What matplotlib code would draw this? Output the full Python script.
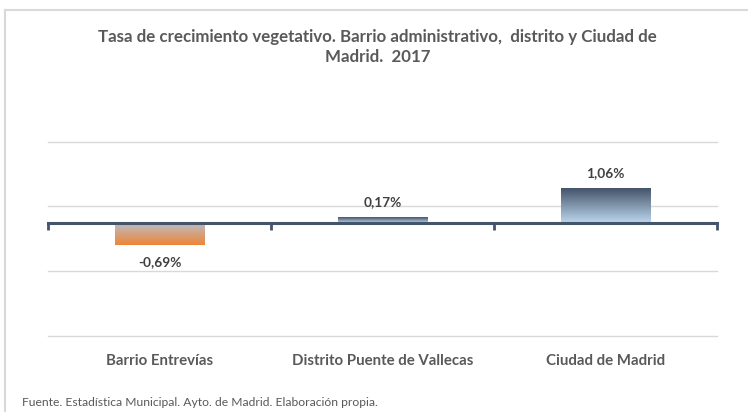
import numpy as np
import matplotlib
matplotlib.use("Agg")
import matplotlib.pyplot as plt
from matplotlib.colors import LinearSegmentedColormap
from matplotlib.lines import Line2D

categories = ["Barrio Entrevías", "Distrito Puente de Vallecas", "Ciudad de Madrid"]
values = [-0.69, 0.17, 1.06]
value_labels = ["-0,69%", "0,17%", "1,06%"]
grid_values = [-3.5, -1.5, 0.5, 2.5]
title = "Tasa de crecimiento vegetativo. Barrio administrativo,  distrito y Ciudad de\nMadrid.  2017"
source = "Fuente. Estadística Municipal. Ayto. de Madrid. Elaboración propia."

plt.rcParams['font.family'] = ['Lato', 'DejaVu Sans']

fig = plt.figure(figsize=(7.48, 4.12), dpi=100)
ax = fig.add_axes([48/748, 76/412, 669/748, 194.3/412])

# chart frame
fig.add_artist(Line2D([5/748, 5/748], [0, 1 - 10/412], color='#d9d9d9', lw=1.5))
fig.add_artist(Line2D([5/748, 1], [1 - 10/412, 1 - 10/412], color='#d9d9d9', lw=1.5))

x = np.arange(len(categories))
bars = ax.bar(x, values, width=0.40, color='none', edgecolor='none', zorder=3)

grad = np.linspace(0, 1, 256).reshape(-1, 1)
for v, bar in zip(values, bars):
    if v < 0:
        cmap = LinearSegmentedColormap.from_list('neg', ['#b8bfcb', '#ef8536'])
    else:
        cmap = LinearSegmentedColormap.from_list('pos', ['#bdd7ee', '#44546a'])
    x0 = bar.get_x()
    w = bar.get_width()
    im = ax.imshow(grad, cmap=cmap, origin='lower', aspect='auto',
                   extent=(x0, x0 + w, 0, v), zorder=3, interpolation='bicubic')
    im.set_clip_path(bar)

for v, lab, xi in zip(values, value_labels, x):
    if v >= 0:
        ax.annotate(lab, (xi, v), xytext=(0, 8.3), textcoords='offset points',
                    ha='center', va='baseline', fontsize=9.8, fontweight='bold', color='#404040')
    else:
        ax.annotate(lab, (xi, v), xytext=(0, -8), textcoords='offset points',
                    ha='center', va='top', fontsize=9.8, fontweight='bold', color='#404040')

ax.set_xlim(-0.5, len(categories) - 0.5)
ax.set_ylim(grid_values[0], grid_values[-1])
ax.set_yticks(grid_values)
ax.yaxis.grid(True, color='#d9d9d9', lw=1, clip_on=False)
ax.set_axisbelow(True)
ax.tick_params(axis='y', length=0, labelleft=False)

for s in ['top', 'right', 'left']:
    ax.spines[s].set_visible(False)
ax.spines['bottom'].set_position(('data', 0))
ax.spines['bottom'].set_color('#44546a')
ax.spines['bottom'].set_linewidth(2.2)
ax.spines['bottom'].set_zorder(4)
ax.set_xticks(np.arange(len(categories) + 1) - 0.5)
ax.tick_params(axis='x', length=5, width=2, color='#44546a', labelbottom=False, direction='out')

sec = ax.secondary_xaxis('bottom')
sec.set_xticks(x, categories)
sec.tick_params(length=0, pad=13, labelsize=10.8, labelcolor='#595959')
for t in sec.get_xticklabels():
    t.set_fontweight('bold')
sec.spines['bottom'].set_visible(False)

fig.text(0.505, 1 - 47/412, title, ha='center', va='center', fontsize=12.2,
         fontweight='bold', color='#595959', linespacing=1.35)
fig.text(22/748, 1 - 402/412, source, ha='left', va='center', fontsize=8.7, color='#595959')

fig.savefig('out.png', dpi=100)
